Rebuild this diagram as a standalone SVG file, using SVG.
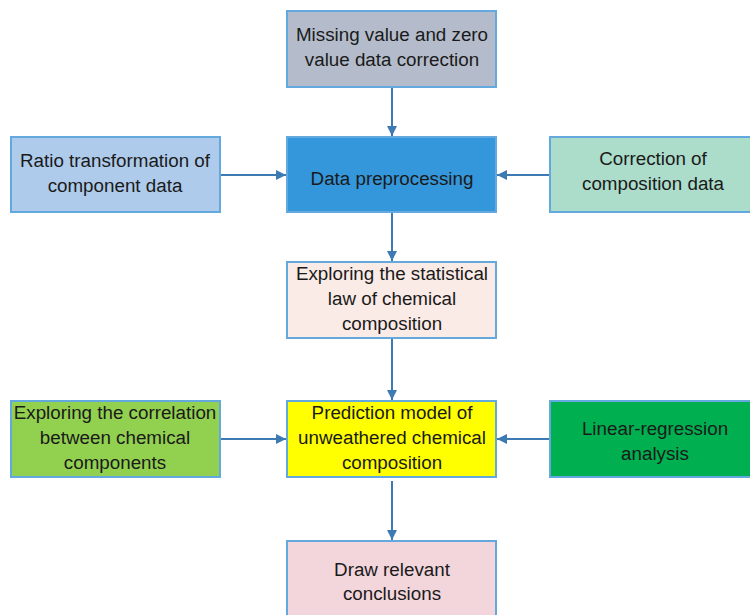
<svg xmlns="http://www.w3.org/2000/svg" width="750" height="615" viewBox="0 0 750 615">
<defs>
<style>
.box{stroke:#64a9de;stroke-width:2}
.t{font-family:"Liberation Sans",Arial,sans-serif;font-size:18.8px;fill:#1a1a1a;text-anchor:middle}
.c{stroke:#3d7ab3;stroke-width:2;fill:none;marker-end:url(#ah)}
</style>
<marker id="ah" viewBox="0 0 10 10" refX="10" refY="5" markerWidth="5" markerHeight="5" markerUnits="strokeWidth" orient="auto">
<path d="M0,0 L10,5 L0,10 z" fill="#3d7ab3"/>
</marker>
</defs>
<rect width="750" height="615" fill="#ffffff"/>
<g id="connectors">
<line class="c" x1="392" y1="87" x2="392" y2="136"/>
<line class="c" x1="220" y1="175" x2="286" y2="175"/>
<line class="c" x1="550" y1="175" x2="497" y2="175"/>
<line class="c" x1="392" y1="212" x2="392" y2="261"/>
<line class="c" x1="392" y1="338" x2="392" y2="400"/>
<line class="c" x1="220" y1="439" x2="286" y2="439"/>
<line class="c" x1="550" y1="439" x2="497" y2="439"/>
<line class="c" x1="392" y1="481" x2="392" y2="540"/>
</g>
<g id="n-missing">
<rect class="box" x="287" y="11" width="209" height="76" fill="#b4bccb"/>
<text class="t" x="392" y="41">Missing value and zero</text>
<text class="t" x="392" y="66">value data correction</text>
</g>
<g id="n-ratio">
<rect class="box" x="11" y="137" width="209" height="75" fill="#aecbeb"/>
<text class="t" x="115" y="167">Ratio transformation of</text>
<text class="t" x="115" y="192">component data</text>
</g>
<g id="n-preproc">
<rect class="box" x="287" y="137" width="209" height="75" fill="#3597db"/>
<text class="t" x="392" y="185">Data preprocessing</text>
</g>
<g id="n-correction">
<rect class="box" x="550" y="137" width="202" height="75" fill="#acdcca"/>
<text class="t" x="653" y="165">Correction of</text>
<text class="t" x="653" y="190">composition data</text>
</g>
<g id="n-statistical">
<rect class="box" x="287" y="262" width="209" height="76" fill="#fbebe6"/>
<text class="t" x="392" y="280">Exploring the statistical</text>
<text class="t" x="392" y="305">law of chemical</text>
<text class="t" x="392" y="330">composition</text>
</g>
<g id="n-correlation">
<rect class="box" x="11" y="401" width="209" height="76" fill="#92d050"/>
<text class="t" x="115" y="419">Exploring the correlation</text>
<text class="t" x="115" y="444">between chemical</text>
<text class="t" x="115" y="469">components</text>
</g>
<g id="n-prediction">
<rect class="box" x="287" y="401" width="209" height="76" fill="#ffff00"/>
<text class="t" x="392" y="419">Prediction model of</text>
<text class="t" x="392" y="444">unweathered chemical</text>
<text class="t" x="392" y="469">composition</text>
</g>
<g id="n-linear">
<rect class="box" x="550" y="401" width="202" height="76" fill="#00b050"/>
<text class="t" x="655" y="435">Linear-regression</text>
<text class="t" x="655" y="460">analysis</text>
</g>
<g id="n-conclusions">
<rect class="box" x="287" y="541" width="209" height="76" fill="#f3d5dc"/>
<text class="t" x="392" y="576">Draw relevant</text>
<text class="t" x="392" y="600">conclusions</text>
</g>
</svg>
